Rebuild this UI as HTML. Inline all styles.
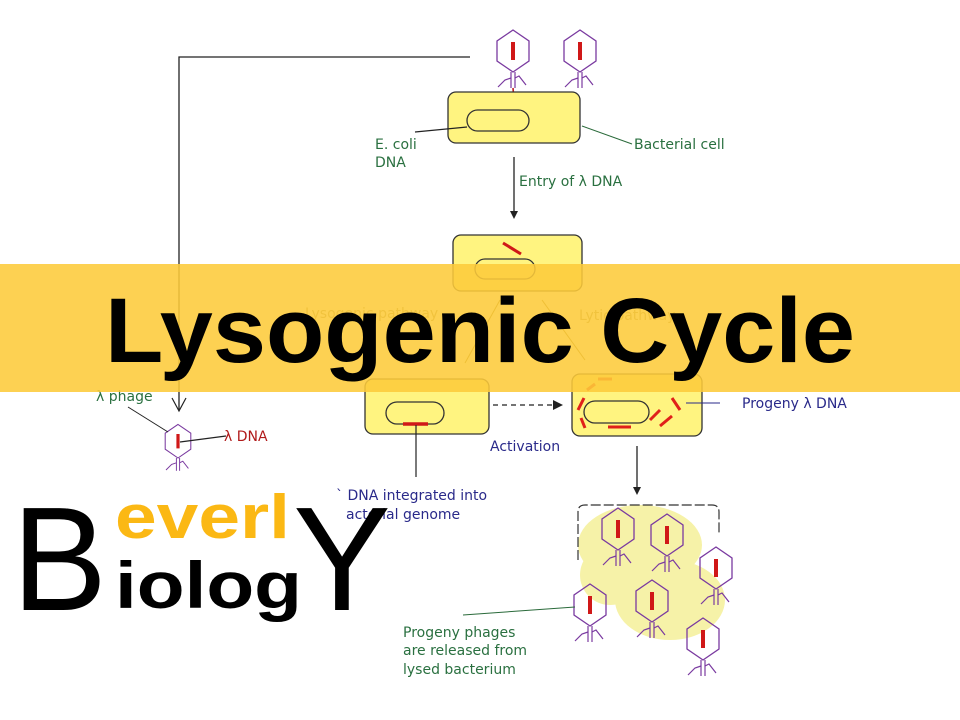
<!DOCTYPE html>
<html><head><meta charset="utf-8"><style>
html,body{margin:0;padding:0;background:#fff;}
svg{display:block}
</style></head><body>
<svg width="960" height="720" viewBox="0 0 960 720" xmlns="http://www.w3.org/2000/svg" font-family="'DejaVu Sans', 'Liberation Sans', sans-serif">
<defs>
<g id="ph">
<polygon points="0,-22 16,-11 16,9 0,20 -16,9 -16,-11" fill="none" stroke="#7a3aa0" stroke-width="1.3"/>
<line x1="0" y1="-10" x2="0" y2="8" stroke="#d01818" stroke-width="4"/>
<line x1="-2" y1="20" x2="-2" y2="36" stroke="#7a3aa0" stroke-width="1.2"/>
<line x1="2" y1="20" x2="2" y2="36" stroke="#7a3aa0" stroke-width="1.2"/>
<polyline points="-2,26 -8,28 -15,35" fill="none" stroke="#7a3aa0" stroke-width="1.2"/>
<polyline points="2,26 6,24 13,33" fill="none" stroke="#7a3aa0" stroke-width="1.2"/>
</g>
</defs>
<polyline points="470,57 179,57 179,410" fill="none" stroke="#222" stroke-width="1.3"/>
<polyline points="172,398 179,411 186,398" fill="none" stroke="#222" stroke-width="1.2"/>
<use href="#ph" x="513" y="52"/>
<use href="#ph" x="580" y="52"/>
<polyline points="513,88 514,100 516,108 522,106" fill="none" stroke="#c02020" stroke-width="1.6"/>
<rect x="448" y="92" width="132" height="51" rx="8" fill="#fff480" stroke="#333" stroke-width="1.3"/>
<rect x="467" y="110" width="62" height="21" rx="10.5" fill="#fff480" stroke="#333" stroke-width="1.3"/>
<line x1="415" y1="132" x2="467" y2="127" stroke="#222" stroke-width="1.2"/>
<line x1="582" y1="126" x2="632" y2="144" stroke="#2a6a3a" stroke-width="1"/>
<text x="375" y="149" font-size="14" fill="#2a7040">E. coli</text>
<text x="375" y="167" font-size="14" fill="#2a7040">DNA</text>
<text x="634" y="149" font-size="14" fill="#2a7040">Bacterial cell</text>
<line x1="514" y1="157" x2="514" y2="212" stroke="#222" stroke-width="1.3"/>
<polygon points="510,211 518,211 514,219" fill="#222"/>
<text x="519" y="186" font-size="14" fill="#2a7040">Entry of λ DNA</text>
<rect x="453" y="235" width="129" height="56" rx="8" fill="#fff480" stroke="#333" stroke-width="1.3"/>
<rect x="475" y="259" width="60" height="20" rx="10" fill="#fff480" stroke="#333" stroke-width="1.3"/>
<line x1="503" y1="243" x2="521" y2="254" stroke="#d01818" stroke-width="3"/>
<line x1="500" y1="300" x2="465" y2="363" stroke="#8a6a10" stroke-width="1"/>
<line x1="542" y1="300" x2="585" y2="360" stroke="#8a6a10" stroke-width="1"/>
<text x="305" y="318" font-size="14" fill="#9a8a50">Lysogenic pathway</text>
<text x="579" y="320" font-size="14" fill="#9a8a50">Lytic pathway</text>
<rect x="365" y="379" width="124" height="55" rx="8" fill="#fff480" stroke="#333" stroke-width="1.3"/>
<rect x="386" y="402" width="58" height="22" rx="11" fill="#fff480" stroke="#333" stroke-width="1.3"/>
<line x1="403" y1="424" x2="428" y2="424" stroke="#d01818" stroke-width="3.5"/>
<line x1="416" y1="425" x2="416" y2="477" stroke="#222" stroke-width="1.2"/>
<line x1="493" y1="405" x2="555" y2="405" stroke="#222" stroke-width="1.3" stroke-dasharray="5,4"/>
<polygon points="553,400 563,405 553,410" fill="#222"/>
<text x="490" y="451" font-size="14" fill="#2a2a8a">Activation</text>
<text x="336" y="500" font-size="14" fill="#2a2a8a">` DNA integrated into</text>
<text x="346" y="519" font-size="14" fill="#2a2a8a">acterial genome</text>
<rect x="572" y="374" width="130" height="62" rx="8" fill="#fff480" stroke="#333" stroke-width="1.3"/>
<rect x="584" y="401" width="65" height="22" rx="11" fill="#fff480" stroke="#333" stroke-width="1.3"/>
<g stroke="#e0201a" stroke-width="3">
<line x1="578" y1="410" x2="584" y2="398"/><line x1="581" y1="418" x2="585" y2="428"/>
<line x1="608" y1="427" x2="631" y2="427"/><line x1="650" y1="420" x2="660" y2="410"/>
<line x1="660" y1="426" x2="672" y2="416"/><line x1="672" y1="398" x2="680" y2="410"/>
<line x1="587" y1="390" x2="595" y2="384"/><line x1="598" y1="379" x2="612" y2="379"/>
</g>
<line x1="686" y1="403" x2="720" y2="403" stroke="#2a2a8a" stroke-width="1"/>
<text x="742" y="408" font-size="14" fill="#2a2a8a">Progeny λ DNA</text>
<line x1="637" y1="446" x2="637" y2="488" stroke="#222" stroke-width="1.3"/>
<polygon points="633,487 641,487 637,495" fill="#222"/>
<g fill="#f5f09a" opacity="0.85">
<ellipse cx="640" cy="545" rx="62" ry="40"/><ellipse cx="670" cy="600" rx="55" ry="40"/><ellipse cx="610" cy="575" rx="30" ry="30"/>
</g>
<path d="M578,560 L578,512 Q578,505 585,505 L712,505 Q719,505 719,512 L719,535" fill="none" stroke="#333" stroke-width="1.2" stroke-dasharray="10,3"/>
<use href="#ph" x="618" y="530"/>
<use href="#ph" x="667" y="536"/>
<use href="#ph" x="716" y="569"/>
<use href="#ph" x="590" y="606"/>
<use href="#ph" x="652" y="602"/>
<use href="#ph" x="703" y="640"/>
<line x1="463" y1="615" x2="575" y2="607" stroke="#2a6a3a" stroke-width="1"/>
<text x="403" y="637" font-size="14" fill="#2a7040">Progeny phages</text>
<text x="403" y="655" font-size="14" fill="#2a7040">are released from</text>
<text x="403" y="674" font-size="14" fill="#2a7040">lysed bacterium</text>
<g transform="translate(178,442) scale(0.8)"><use href="#ph"/></g>
<line x1="128" y1="407" x2="168" y2="432" stroke="#222" stroke-width="1"/>
<line x1="180" y1="442" x2="226" y2="436" stroke="#222" stroke-width="1.2"/>
<text x="96" y="401" font-size="14" fill="#2a7040">λ phage</text>
<text x="224" y="441" font-size="14" fill="#b01a1a">λ DNA</text>
<rect x="0" y="264" width="960" height="128" fill="#fdcb3a" opacity="0.88"/>
<text x="105" y="362" font-family="'Liberation Sans',sans-serif" font-weight="bold" font-size="92" textLength="750" lengthAdjust="spacingAndGlyphs" fill="#000">Lysogenic Cycle</text>
<text x="12" y="610" font-family="'Liberation Sans',sans-serif" font-size="148" textLength="95" lengthAdjust="spacingAndGlyphs" fill="#000">B</text>
<text x="115" y="538" font-family="'Liberation Sans',sans-serif" font-weight="bold" font-size="62" textLength="175" lengthAdjust="spacingAndGlyphs" fill="#fbb814">everl</text>
<text x="115" y="608" font-family="'Liberation Sans',sans-serif" font-weight="bold" font-size="66" textLength="187" lengthAdjust="spacingAndGlyphs" fill="#000">iolog</text>
<text x="293" y="610" font-family="'Liberation Sans',sans-serif" font-size="148" textLength="98" lengthAdjust="spacingAndGlyphs" fill="#000">Y</text>
</svg>
</body></html>
